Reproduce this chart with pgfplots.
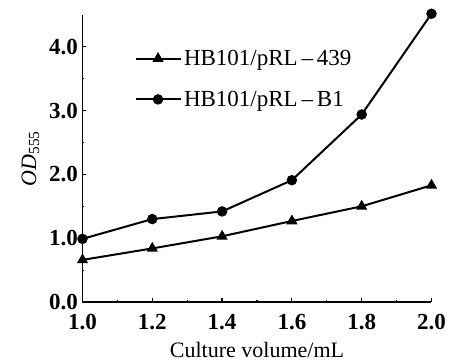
\documentclass[border=0pt]{standalone}
\usepackage{pgfplots}
\pgfplotsset{compat=1.18}
\usepackage{fontspec}
\setmainfont{Liberation Serif}
\pgfplotstableread{
x y
1.0 0.66
1.2 0.84
1.4 1.03
1.6 1.27
1.8 1.50
2.0 1.83
}\seriesA
\pgfplotstableread{
x y
1.0 0.99
1.2 1.30
1.4 1.42
1.6 1.91
1.8 2.94
2.0 4.52
}\seriesB
\begin{document}
\begin{tikzpicture}
\begin{axis}[
  scale only axis, width=349pt, height=287pt,
  xmin=1, xmax=2, ymin=0, ymax=4.5,
  axis x line=bottom, axis y line=left,
  axis line style={-, line width=1.8pt},
  clip=false,
  xtick={1,1.2,1.4,1.6,1.8,2.0},
  ytick={0,1,2,3,4},
  minor ytick={0.5,1.5,2.5,3.5},
  minor xtick={1.1,1.3,1.5,1.7,1.9},
  tick align=inside,
  major tick length=4pt, minor tick length=2pt,
  tick style={line width=1.2pt, black},
  /pgf/number format/assume math mode=true,
  xticklabel={\pgfmathprintnumber[fixed,fixed zerofill,precision=1]{\tick}},
  yticklabel={\pgfmathprintnumber[fixed,fixed zerofill,precision=1]{\tick}},
  ticklabel style={font=\fontsize{23}{25}\selectfont\bfseries},
  xticklabel style={yshift=-9pt},
  yticklabel style={xshift=-1pt},
  xlabel={Culture volume/mL},
  ylabel={\textit{OD}\textsubscript{555}},
  label style={font=\fontsize{22}{24}\selectfont},
  xlabel style={yshift=-5pt},
  ylabel style={yshift=3pt},
  legend style={draw=none, fill=none, at={(0.15,0.885)}, anchor=north west,
    font=\fontsize{23}{25}\selectfont, row sep=20pt, inner sep=0pt},
  legend cell align=left,
  legend image code/.code={\draw[mark repeat=2,mark phase=2] plot coordinates {(0pt,0pt) (22pt,0pt) (45pt,0pt)};},
]
\addplot[black, line width=2pt, mark=triangle*, mark size=4.5pt, mark options={solid}] table[x=x,y=y]{\seriesA};
\addlegendentry{HB101/pRL\,--\,439}
\addplot[black, line width=2pt, mark=*, mark size=4.2pt, mark options={solid}] table[x=x,y=y]{\seriesB};
\addlegendentry{HB101/pRL\,--\,B1}
\end{axis}
\pgfresetboundingbox
\path[use as bounding box] ([shift={(-82.5pt,-60pt)}]current axis.south west) rectangle ++(451pt,362pt);
\end{tikzpicture}
\end{document}
